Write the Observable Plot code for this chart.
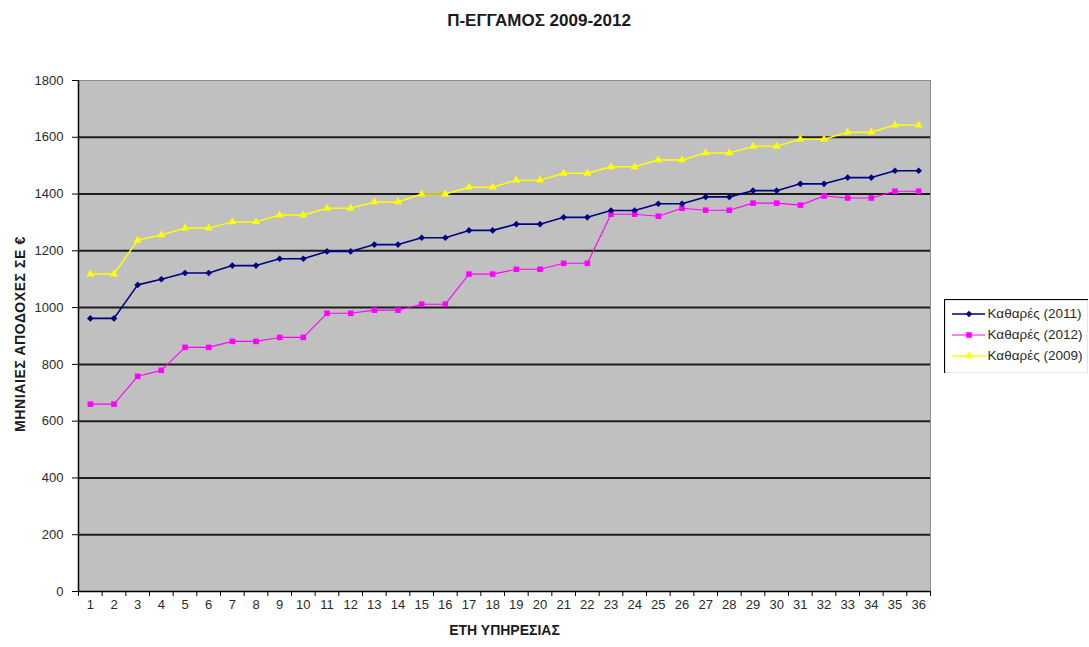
<!DOCTYPE html>
<html>
<head>
<meta charset="utf-8">
<script src="https://cdn.jsdelivr.net/npm/d3@7"></script>
<script src="https://cdn.jsdelivr.net/npm/@observablehq/plot@0.6"></script>
<style>
  body { margin: 0; background: #fff; font-family: Arial, "Liberation Sans", sans-serif; }
  #wrap { position: relative; width: 1089px; height: 647px; overflow: hidden; }
  #title { position: absolute; left: 0; top: 11px; width: 1078px; text-align: center;
           font-weight: bold; font-size: 17px; color: #1a1a1a; }
  #ylabel { position: absolute; left: 20px; top: 334px; transform: translate(-50%, -50%) rotate(-90deg);
            white-space: nowrap; font-weight: bold; font-size: 14px; letter-spacing: 0.6px; color: #1a1a1a; line-height: 1; }
  #legend { position: absolute; left: 944px; top: 299px; }
  #chart { position: absolute; left: 0; top: 0; }
</style>
</head>
<body>
<div id="wrap">
  <div id="chart"></div>
  <div id="title"></div>
  <div id="ylabel"></div>
  <div id="legend"></div>
</div>
<script>
// ---- data ----
const years = [1,2,3,4,5,6,7,8,9,10,11,12,13,14,15,16,17,18,19,20,21,22,23,24,25,26,27,28,29,30,31,32,33,34,35,36];
const net2011 = [962,962,1080,1100,1122,1122,1148,1148,1172,1172,1198,1198,1222,1222,1246,1246,1272,1272,1294,1294,1318,1318,1342,1342,1366,1366,1390,1390,1412,1412,1436,1436,1458,1458,1482,1482];
const net2012 = [660,660,758,779,860,860,881,881,895,895,980,980,991,991,1012,1012,1118,1118,1135,1135,1156,1156,1329,1329,1322,1350,1343,1343,1368,1368,1361,1393,1386,1386,1410,1410];
const net2009 = [1118,1118,1238,1256,1280,1280,1302,1302,1326,1326,1350,1350,1372,1372,1400,1400,1424,1424,1449,1449,1473,1473,1496,1496,1520,1520,1545,1545,1568,1568,1593,1593,1618,1618,1643,1643];
const seriesNames = ["Καθαρές (2011)", "Καθαρές (2012)", "Καθαρές (2009)"];
const yTicks = [0,200,400,600,800,1000,1200,1400,1600,1800];
const titleText = "Π-ΕΓΓΑΜΟΣ 2009-2012";
const yLabel = "ΜΗΝΙΑΙΕΣ ΑΠΟΔΟΧΕΣ ΣΕ €";
const xLabel = "ΕΤΗ ΥΠΗΡΕΣΙΑΣ";

// ---- styling ----
const colors = {"Καθαρές (2011)": "#000080", "Καθαρές (2012)": "#ff00ff", "Καθαρές (2009)": "#ffff00"};
const symbols = {"Καθαρές (2011)": "diamond2", "Καθαρές (2012)": "square", "Καθαρές (2009)": "triangle"};
const radii = {"Καθαρές (2011)": 4.2, "Καθαρές (2012)": 4.6, "Καθαρές (2009)": 4.2};
const widths = {"Καθαρές (2011)": 1.6, "Καθαρές (2012)": 1.1, "Καθαρές (2009)": 1.5};

const valuesBySeries = [net2011, net2012, net2009];
const rows = [];
seriesNames.forEach((s, i) => years.forEach((yr, j) => rows.push({series: s, year: yr, value: valuesBySeries[i][j]})));
const boundaries = years.map(y => y - 0.5).concat([years[years.length - 1] + 0.5]);

const fontFamily = 'Arial, "Liberation Sans", sans-serif';

const chart = Plot.plot({
  width: 1089,
  height: 647,
  marginLeft: 78,
  marginRight: 159,
  marginTop: 80,
  marginBottom: 56,
  style: {fontFamily, fontSize: "13px", color: "#2a2a2a", background: "#fff"},
  x: {type: "linear", domain: [years[0] - 0.5, years[years.length - 1] + 0.5]},
  y: {domain: [yTicks[0], yTicks[yTicks.length - 1]]},
  marks: [
    Plot.frame({fill: "#c0c0c0", stroke: "#8c8c8c"}),
    Plot.ruleY(yTicks.filter(v => v > yTicks[0] && v < yTicks[yTicks.length - 1]), {stroke: "#1c1c1c", strokeWidth: 2}),
    Plot.ruleX([years[0] - 0.5], {stroke: "#000", strokeWidth: 1.5}),
    Plot.ruleY([yTicks[0]], {stroke: "#000", strokeWidth: 1.5}),
    Plot.axisY({ticks: yTicks, tickSize: 6, tickPadding: 9, label: null, tickFormat: d => String(d), stroke: "#000"}),
    Plot.axisX({ticks: boundaries, tickSize: 5, tickFormat: () => "", label: null, stroke: "#000"}),
    Plot.axisX({ticks: years, tickSize: 0, tickPadding: 8, label: null, tickFormat: d => String(d)}),
    Plot.line(rows, {x: "year", y: "value", z: "series", stroke: d => colors[d.series], strokeWidth: d => widths[d.series]}),
    Plot.dot(rows, {x: "year", y: "value", symbol: d => symbols[d.series], fill: d => colors[d.series], r: d => radii[d.series], stroke: "none"}),
    Plot.text([xLabel], {frameAnchor: "bottom", dy: 43, fontWeight: "bold", fontSize: 14, fill: "#1a1a1a"})
  ]
});
document.getElementById("chart").appendChild(chart);
document.getElementById("title").textContent = titleText;
document.getElementById("ylabel").textContent = yLabel;

// ---- legend ----
const legend = Plot.plot({
  width: 144,
  height: 74,
  margin: 0,
  style: {fontFamily, fontSize: "13.5px", color: "#222", background: "#fff"},
  x: {type: "linear", domain: [0, 144], range: [0, 144], axis: null},
  y: {type: "band", domain: seriesNames, range: [2, 69.5], axis: null},
  marks: [
    Plot.frame({stroke: "#000", fill: "#fff", strokeWidth: 1.2}),
    Plot.ruleY(seriesNames, {y: d => d, x1: 8, x2: 41, stroke: d => colors[d], strokeWidth: d => widths[d]}),
    Plot.dot(seriesNames, {x: 24.5, y: d => d, symbol: d => symbols[d], fill: d => colors[d], r: d => radii[d], stroke: "none"}),
    Plot.text(seriesNames, {x: 43, y: d => d, text: d => d, textAnchor: "start", fill: "#2a2a2a"})
  ]
});
document.getElementById("legend").appendChild(legend);
</script>
</body>
</html>
